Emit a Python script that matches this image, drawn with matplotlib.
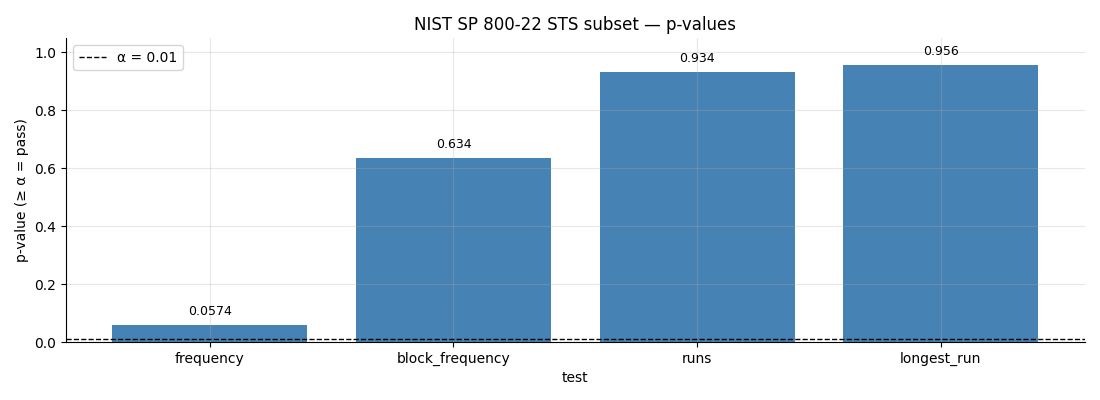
import matplotlib
matplotlib.use("Agg")
import matplotlib.pyplot as plt

tests = ["frequency", "block_frequency", "runs", "longest_run"]
p_values = [0.0574, 0.634, 0.934, 0.956]
value_labels = ["0.0574", "0.634", "0.934", "0.956"]
alpha = 0.01

fig, ax = plt.subplots(figsize=(11, 4), dpi=100)
bars = ax.bar(tests, p_values, color="steelblue", width=0.8)
ax.axhline(alpha, color="black", linestyle="--", linewidth=1, label="α = 0.01")

for rect, txt in zip(bars, value_labels):
    ax.annotate(txt, (rect.get_x() + rect.get_width() / 2, rect.get_height()),
                xytext=(0, 5), textcoords="offset points",
                ha="center", va="bottom", fontsize=9)

ax.set_ylim(0, 1.05)
ax.set_xlabel("test")
ax.set_ylabel("p-value (≥ α = pass)")
ax.set_title("NIST SP 800-22 STS subset — p-values")
ax.grid(True, alpha=0.3)
ax.spines["top"].set_visible(False)
ax.spines["right"].set_visible(False)
ax.legend(loc="upper left")

fig.subplots_adjust(left=0.06, right=0.986, top=0.905, bottom=0.145)
fig.savefig("out.png")
